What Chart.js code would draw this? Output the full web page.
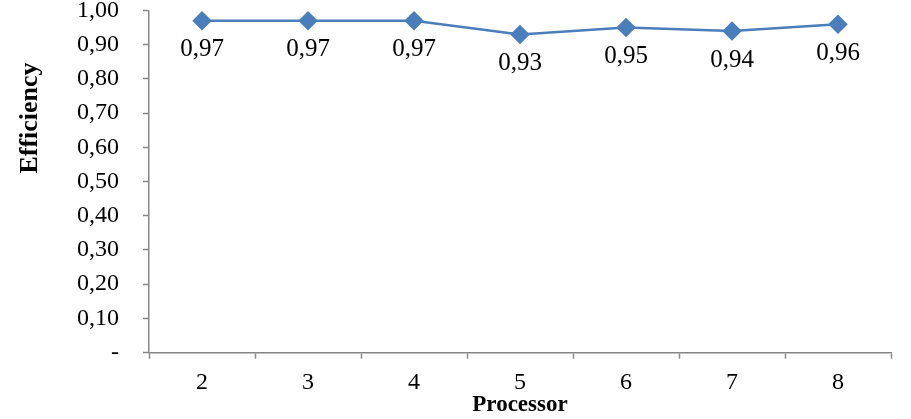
<!DOCTYPE html>
<html>
<head>
<meta charset="utf-8">
<script src="https://cdn.jsdelivr.net/npm/chart.js@4/dist/chart.umd.min.js"></script>
<style>
  html, body { margin: 0; padding: 0; background: #fff; }
  #wrap { width: 911px; height: 419px; position: relative; }
</style>
</head>
<body>
<div id="wrap"><canvas id="effChart"></canvas></div>
<script>
// data
const processors = ['2', '3', '4', '5', '6', '7', '8'];
const efficiency = [0.97, 0.97, 0.97, 0.93, 0.95, 0.94, 0.96];
const yTicks = [0, 0.1, 0.2, 0.3, 0.4, 0.5, 0.6, 0.7, 0.8, 0.9, 1.0];

const serif = "'Liberation Serif', 'Times New Roman', serif";
const blue = '#4a7ebb';
const axisGray = '#868686';

const fmt = v => v.toFixed(2).replace('.', ',');

// value labels under each point, like Excel data labels
const pointLabels = {
  id: 'pointLabels',
  afterDatasetsDraw(chart) {
    const ctx = chart.ctx;
    const meta = chart.getDatasetMeta(0);
    ctx.save();
    ctx.font = '25px ' + serif;
    ctx.fillStyle = '#000';
    ctx.textAlign = 'center';
    ctx.textBaseline = 'middle';
    meta.data.forEach((pt, i) => {
      ctx.fillText(fmt(efficiency[i]), pt.x, pt.y + 29);
    });
    ctx.restore();
  }
};

// y title sits above the middle of the axis in the original, so draw it by hand
const yTitle = {
  id: 'yTitle',
  afterDraw(chart) {
    const ctx = chart.ctx;
    ctx.save();
    ctx.translate(30, 118);
    ctx.rotate(-Math.PI / 2);
    ctx.font = 'bold 26px ' + serif;
    ctx.fillStyle = '#000';
    ctx.textAlign = 'center';
    ctx.textBaseline = 'middle';
    ctx.fillText('Efficiency', 0, 0);
    ctx.restore();
  }
};

new Chart(document.getElementById('effChart'), {
  type: 'line',
  data: {
    labels: processors,
    datasets: [{
      data: efficiency,
      borderColor: blue,
      backgroundColor: blue,
      borderWidth: 2.5,
      pointStyle: 'rectRot',
      pointRadius: 8,
      pointHoverRadius: 8,
      tension: 0
    }]
  },
  options: {
    responsive: true,
    maintainAspectRatio: false,
    animation: false,
    layout: { padding: { left: 53, right: 20, top: 10, bottom: 0 } },
    plugins: {
      legend: { display: false },
      tooltip: { enabled: false }
    },
    scales: {
      x: {
        offset: true,
        grid: {
          offset: true,
          drawOnChartArea: false,
          drawTicks: true,
          tickLength: 6,
          tickColor: axisGray,
          tickWidth: 1.5
        },
        border: { color: axisGray, width: 1.5 },
        ticks: {
          color: '#000',
          font: { family: serif, size: 24 },
          padding: 10
        },
        title: {
          display: true,
          text: 'Processor',
          color: '#000',
          font: { family: serif, size: 23, weight: 'bold' },
          padding: { top: -16, bottom: 0 }
        }
      },
      y: {
        min: 0,
        max: 1,
        afterBuildTicks(scale) {
          scale.ticks = yTicks.map(v => ({ value: v }));
        },
        // tick padding would otherwise push the plot top down
        afterFit(scale) {
          scale.paddingTop = 0;
          scale.paddingBottom = 0;
        },
        grid: {
          drawOnChartArea: false,
          drawTicks: true,
          tickLength: 6,
          tickColor: axisGray,
          tickWidth: 1.5
        },
        border: { color: axisGray, width: 1.5 },
        ticks: {
          autoSkip: false,
          color: '#000',
          font: { family: serif, size: 24 },
          padding: 24,
          callback: v => (v === 0 ? '-' : fmt(v))
        },
        title: { display: false }
      }
    }
  },
  plugins: [pointLabels, yTitle]
});
</script>
</body>
</html>
